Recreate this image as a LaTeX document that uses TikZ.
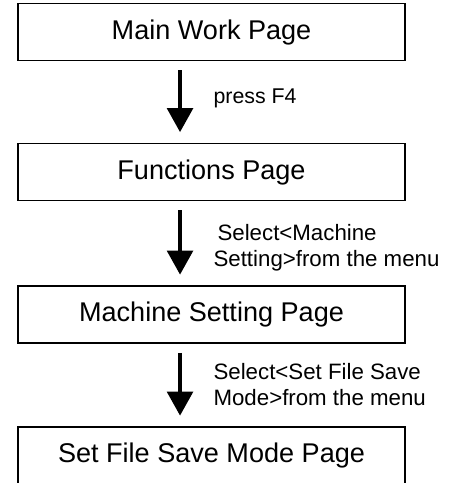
\documentclass[tikz,border=0pt]{standalone}
\usepackage{fontspec}
\setmainfont{Liberation Sans}
\usepackage{xcolor}
\usepackage{tikz}
\usetikzlibrary{arrows.meta}
\definecolor{Ink}{HTML}{000000}

\begin{document}
\begin{tikzpicture}[
  x=0.75pt, y=-0.75pt,
  page/.style={rectangle, draw=Ink, line width=1.2pt, align=center, minimum width=290pt, minimum height=42.5pt, inner sep=0pt, font=\fontsize{20.3}{24}\selectfont},
  flow/.style={-{Triangle[width=19pt,length=18pt]}, line width=3.3pt, draw=Ink, shorten <=7pt, shorten >=8pt},
  hint/.style={anchor=west, align=left, inner sep=0pt, xshift=23.5pt, font=\fontsize{16.7}{19.5}\selectfont}
]
\clip (0,0) rectangle (449,483);
\node[page] (main) at (211.5,32) {Main Work Page};
\node[page] (func) at (211.5,172) {Functions Page};
\node[page] (mach) at (211.5,314.5) {Machine Setting Page};
\node[page] (save) at (211.5,455.5) {Set File Save Mode Page};
\draw[flow] ([xshift=122pt]main.south west) -- ([xshift=122pt]func.north west)
  node[hint, pos=0.45, font=\fontsize{16}{19}\selectfont] (f4) {press F4};
\draw[flow] ([xshift=122pt]func.south west) -- ([xshift=122pt]mach.north west)
  node[hint, pos=0.55] (selm) {\hspace{3pt}Select<Machine\\Setting>from the menu};
\draw[flow] ([xshift=122pt]mach.south west) -- ([xshift=122pt]save.north west)
  node[hint, pos=0.5] (sels) {Select<Set File Save\\Mode>from the menu};
\end{tikzpicture}
\end{document}
